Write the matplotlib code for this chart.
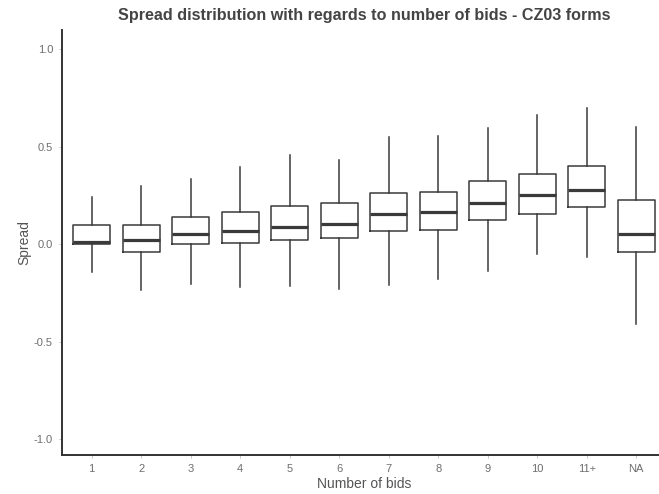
import matplotlib
matplotlib.use("Agg")
import matplotlib.pyplot as plt

plt.rcParams["font.family"] = ["Liberation Sans", "DejaVu Sans"]

# Number of bids categories and boxplot stats
categories = ["1", "2", "3", "4", "5", "6", "7", "8", "9", "10", "11+", "NA"]
whislo = [-0.142, -0.236, -0.203, -0.222, -0.214, -0.231, -0.207, -0.178, -0.138, -0.053, -0.065, -0.409]
q1 = [0.000, -0.039, 0.000, 0.007, 0.019, 0.029, 0.067, 0.070, 0.121, 0.152, 0.188, -0.039]
med = [0.009, 0.022, 0.052, 0.067, 0.090, 0.104, 0.152, 0.164, 0.209, 0.250, 0.279, 0.050]
q3 = [0.097, 0.097, 0.137, 0.164, 0.196, 0.211, 0.260, 0.265, 0.323, 0.359, 0.402, 0.224]
whishi = [0.240, 0.300, 0.335, 0.393, 0.456, 0.431, 0.547, 0.554, 0.595, 0.662, 0.697, 0.602]

stats = []
for i in range(len(categories)):
    stats.append({"label": categories[i], "whislo": whislo[i], "q1": q1[i],
                  "med": med[i], "q3": q3[i], "whishi": whishi[i]})

fig = plt.figure(figsize=(6.59, 4.94), dpi=100)
ax = fig.add_axes([62 / 659, 1 - 455.3 / 494, (666 - 62) / 659, (455.3 - 30) / 494])

line_col = "#3a3a3a"
ax.bxp(stats, positions=range(1, len(categories) + 1), widths=0.75,
       showfliers=False, showcaps=False,
       boxprops={"color": line_col, "linewidth": 1.1},
       whiskerprops={"color": line_col, "linewidth": 1.1},
       medianprops={"color": line_col, "linewidth": 2.3})

ax.set_xlim(0.4, 12.6)
ax.set_ylim(-1.082, 1.097)
ax.set_yticks([-1.0, -0.5, 0.0, 0.5, 1.0])
ax.set_yticklabels(["-1.0", "-0.5", "0.0", "0.5", "1.0"])
ax.set_xticks(range(1, len(categories) + 1))
ax.set_xticklabels(categories)

for side in ["top", "right"]:
    ax.spines[side].set_visible(False)
for side in ["left", "bottom"]:
    ax.spines[side].set_color("#333333")
    ax.spines[side].set_linewidth(1.4)

ax.tick_params(axis="both", colors="#bbbbbb", length=2.5, width=0.6,
               labelcolor="#6e6e6e", labelsize=8, pad=4)

ax.set_xlabel("Number of bids", fontsize=10, color="#555555", labelpad=2)
ax.set_ylabel("Spread", fontsize=10, color="#555555", labelpad=2)
ax.set_title("Spread distribution with regards to number of bids - CZ03 forms",
             fontsize=11.6, fontweight="bold", color="#444444", pad=7)

fig.savefig("out.png", dpi=100)
